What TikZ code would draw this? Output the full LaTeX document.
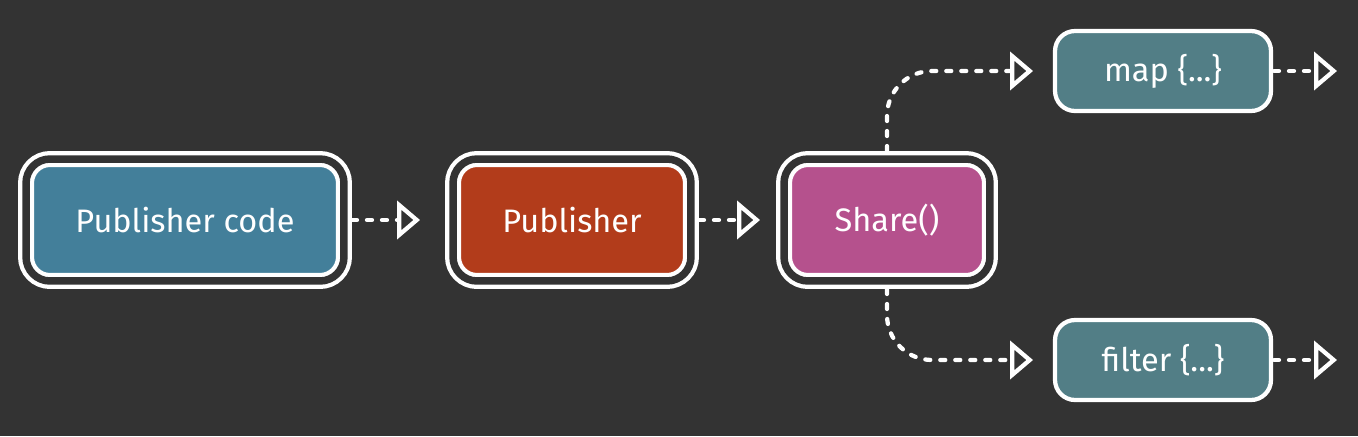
\documentclass[tikz,border=0pt]{standalone}
\usepackage{fontspec}
\setmainfont{Fira Sans}
\usetikzlibrary{calc}
\usetikzlibrary{arrows.meta}
\definecolor{bg}{HTML}{333333}
\definecolor{codeblue}{HTML}{437F9A}
\definecolor{pubred}{HTML}{B23C1B}
\definecolor{sharepink}{HTML}{B5518D}
\definecolor{opteal}{HTML}{527E86}

\begin{document}
\begin{tikzpicture}[x=0.02cm,y=-0.02cm,
        big/.style={draw=white,double=bg,line width=0.085cm,double distance=0.15cm,rectangle,rounded corners=0.48cm,minimum height=2.44cm,inner sep=0,outer sep=0,text=white,font=\fontsize{18.5}{22}\selectfont},
        small/.style={draw=white,line width=0.085cm,rectangle,rounded corners=0.4cm,minimum width=4.32cm,minimum height=1.6cm,inner sep=0,outer sep=0,fill=opteal,text=white,font=\fontsize{18.5}{22}\selectfont},
        flow/.style={draw=white,line width=0.085cm,dash pattern=on 0.1cm off 0.2cm,line cap=round,line join=round,rounded corners=0.9cm,-{Triangle[open,length=0.46cm,width=0.76cm]}}
      ]
      \fill[bg] (0,0) rectangle (1358,436);
      \node[big,fill=codeblue,minimum width=6.36cm] (pcode) at (185,220) {Publisher code};
      \node[big,fill=pubred,minimum width=4.76cm] (pub) at (572,220) {Publisher};
      \node[big,fill=sharepink,minimum width=4.12cm] (share) at (887,220) {Share()};
      \node[small] (map) at (1163,71) {map \{...\}};
      \node[small] (filter) at (1163,360) {filter \{...\}};
      \coordinate (mapout) at (1337,71);
      \coordinate (filterout) at (1337,360);
      \draw[flow,shorten <=0.16cm,shorten >=0.66cm] (pcode) -- (pub);
      \draw[flow,shorten <=0.16cm,shorten >=0.48cm] (pub) -- (share);
      \draw[flow,shorten <=0.16cm,shorten >=0.44cm] (share.north) |- (map.west);
      \draw[flow,shorten <=0.16cm,shorten >=0.44cm] (share.south) |- (filter.west);
      \draw[flow,shorten <=0.06cm] (map.east) -- (mapout);
      \draw[flow,shorten <=0.06cm] (filter.east) -- (filterout);
    \end{tikzpicture}
\end{document}
